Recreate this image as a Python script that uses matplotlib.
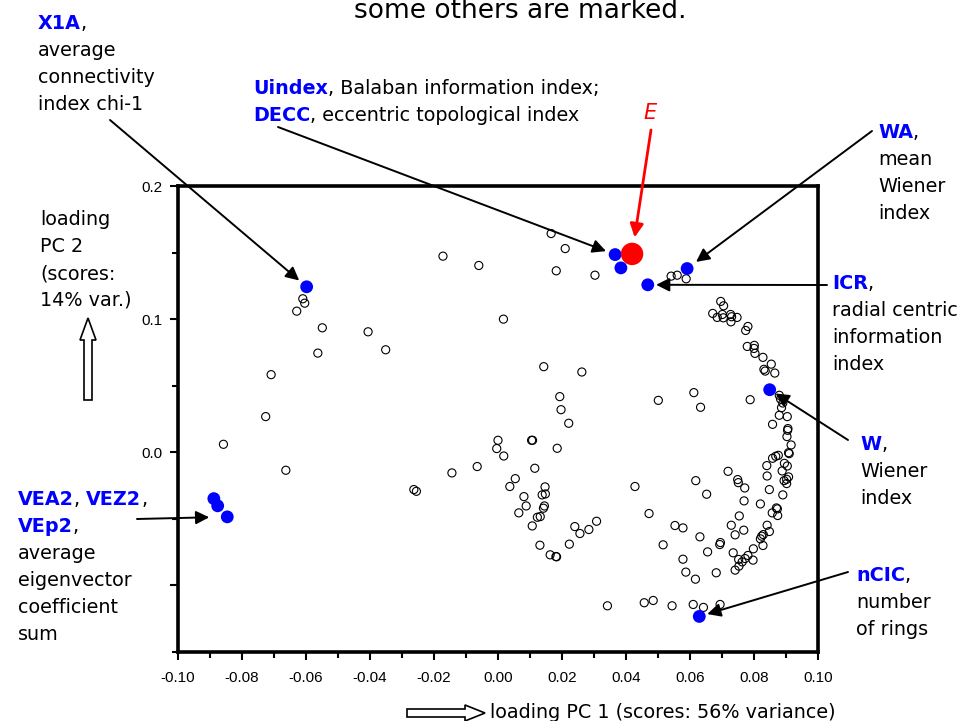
import numpy as np
import matplotlib
matplotlib.use("Agg")
from matplotlib import pyplot as plt
from matplotlib.ticker import MultipleLocator
from matplotlib.patches import Polygon

plt.rcParams['font.family'] = ['DejaVu Sans']

# loadings of all descriptors (open circles)
pc1 = [-0.0610, -0.0604, -0.0629, -0.0549, -0.0406, -0.0351, -0.0563, -0.0709, -0.0726,
       -0.0172, -0.0060, -0.0858, -0.0663,
       0.0166, 0.0210, 0.0182, 0.0303, 0.0541, 0.0560, 0.0588, 0.0017,
       0.0696, 0.0705, 0.0671, 0.0685, 0.0701, 0.0704, 0.0727, 0.0730, 0.0747, 0.0728,
       0.0781, 0.0774, 0.0779, 0.0801, 0.0800, 0.0803, 0.0828, 0.0854, 0.0831, 0.0835,
       0.0865, 0.0788, 0.0879, 0.0886, 0.0879, 0.0904, 0.0883, 0.0890,
       0.0143, 0.0262, 0.0193, 0.0197, 0.0501, 0.0612, 0.0633,
       0.0221, 0.0000, -0.0004, 0.0018, 0.0105, 0.0108, 0.0185, -0.0065, -0.0144,
       -0.0263, -0.0255, 0.0115, 0.0054, 0.0037, 0.0147, 0.0138, 0.0148, 0.0081,
       0.0145, 0.0142, 0.0088, 0.0065, 0.0123, 0.0132, 0.0107, 0.0240, 0.0256,
       0.0284, 0.0308, 0.0223, 0.0131, 0.0163, 0.0181, 0.0183, 0.0342,
       0.0858, 0.0906, 0.0905, 0.0903, 0.0916, 0.0908, 0.0910, 0.0876, 0.0868,
       0.0858, 0.0895, 0.0904, 0.0840, 0.0888, 0.0841, 0.0908, 0.0902, 0.0894,
       0.0902, 0.0848, 0.0890, 0.0719, 0.0749, 0.0751, 0.0771, 0.0618, 0.0652,
       0.0428, 0.0769, 0.0820, 0.0870, 0.0873, 0.0857, 0.0874, 0.0754, 0.0472,
       0.0729, 0.0768, 0.0741, 0.0841, 0.0848, 0.0829, 0.0824, 0.0820, 0.0828,
       0.0553, 0.0578, 0.0631, 0.0516, 0.0695, 0.0693, 0.0655, 0.0798, 0.0735,
       0.0781, 0.0772, 0.0763, 0.0752, 0.0753, 0.0741, 0.0797, 0.0578, 0.0587,
       0.0617, 0.0682, 0.0457, 0.0485, 0.0544, 0.0610, 0.0642, 0.0694]
pc2 = [0.1153, 0.1120, 0.1060, 0.0935, 0.0905, 0.0770, 0.0745, 0.0583, 0.0268,
       0.1473, 0.1403, 0.0060, -0.0135,
       0.1643, 0.1530, 0.1363, 0.1330, 0.1323, 0.1330, 0.1303, 0.1000,
       0.1133, 0.1100, 0.1043, 0.1013, 0.1035, 0.1010, 0.1035, 0.1018, 0.1013, 0.0980,
       0.0945, 0.0915, 0.0795, 0.0803, 0.0780, 0.0743, 0.0713, 0.0662, 0.0623, 0.0610,
       0.0595, 0.0395, 0.0428, 0.0335, 0.0278, 0.0268, 0.0400, 0.0370,
       0.0643, 0.0603, 0.0418, 0.0320, 0.0390, 0.0448, 0.0338,
       0.0218, 0.0090, 0.0028, -0.0028, 0.0090, 0.0090, 0.0030, -0.0107, -0.0155,
       -0.0280, -0.0293, -0.0120, -0.0198, -0.0257, -0.0260, -0.0320, -0.0313, -0.0333,
       -0.0403, -0.0420, -0.0403, -0.0455, -0.0488, -0.0483, -0.0553, -0.0558, -0.0610,
       -0.0580, -0.0518, -0.0690, -0.0698, -0.0770, -0.0783, -0.0785, -0.1153,
       0.0210, 0.0178, 0.0165, 0.0118, 0.0055, -0.0003, -0.0010, -0.0023, -0.0030,
       -0.0045, -0.0083, -0.0103, -0.0100, -0.0140, -0.0178, -0.0185, -0.0203, -0.0213,
       -0.0235, -0.0280, -0.0320, -0.0143, -0.0205, -0.0228, -0.0268, -0.0213, -0.0315,
       -0.0257, -0.0365, -0.0388, -0.0418, -0.0425, -0.0455, -0.0475, -0.0478, -0.0460,
       -0.0548, -0.0585, -0.0620, -0.0548, -0.0595, -0.0618, -0.0630, -0.0650, -0.0700,
       -0.0550, -0.0568, -0.0635, -0.0695, -0.0678, -0.0693, -0.0748, -0.0725, -0.0755,
       -0.0775, -0.0798, -0.0823, -0.0805, -0.0855, -0.0885, -0.0810, -0.0803, -0.0900,
       -0.0953, -0.0905, -0.1130, -0.1113, -0.1153, -0.1143, -0.1165, -0.1143]

# marked descriptors (blue)
marked_names = ['X1A', 'Uindex', 'DECC', 'WA', 'ICR', 'W', 'nCIC', 'VEA2', 'VEZ2', 'VEp2']
marked_pc1 = [-0.0598, 0.0366, 0.0384, 0.0591, 0.0468, 0.0849, 0.0629, -0.0888, -0.0876, -0.0846]
marked_pc2 = [0.1243, 0.1485, 0.1385, 0.1380, 0.1258, 0.0470, -0.1233, -0.0348, -0.0402, -0.0485]

# the E point (red)
e_pc1 = [0.0419]
e_pc2 = [0.1490]

x_ticks = [-0.10, -0.08, -0.06, -0.04, -0.02, 0.00, 0.02, 0.04, 0.06, 0.08, 0.10]
x_tick_labels = ['-0.10', '-0.08', '-0.06', '-0.04', '-0.02', '0.00', '0.02', '0.04', '0.06', '0.08', '0.10']
y_ticks = [-0.1, 0.0, 0.1, 0.2]
y_tick_labels = ['', '0.0', '0.1', '0.2']

W, H = 960, 721
BLUE = '#0000ff'
FS = 13.8


def fpos(x, y):
    # pixel position (from top left) -> figure fraction
    return x / W, 1 - y / H


fig = plt.figure(figsize=(9.6, 7.21), dpi=100)
ax = fig.add_axes([178 / W, 1 - 652 / H, 640 / W, 466 / H])

ax.scatter(pc1, pc2, s=34, facecolors='none', edgecolors='black', linewidths=0.8, zorder=3)
ax.scatter(marked_pc1, marked_pc2, s=85, color=BLUE, edgecolors='none', zorder=4)
ax.scatter(e_pc1, e_pc2, s=260, color='red', edgecolors='none', zorder=5)

ax.set_xlim(-0.10, 0.10)
ax.set_ylim(-0.15, 0.20)
ax.set_xticks(x_ticks)
ax.set_xticklabels(x_tick_labels, fontfamily='Liberation Sans', fontsize=11)
ax.set_yticks(y_ticks)
ax.set_yticklabels(y_tick_labels, fontfamily='Liberation Sans', fontsize=11)
ax.xaxis.set_minor_locator(MultipleLocator(0.01))
ax.yaxis.set_minor_locator(MultipleLocator(0.05))
ax.tick_params(which='major', length=6, width=1.5, pad=5)
ax.tick_params(axis='x', which='major', pad=8)
ax.tick_params(which='minor', length=4, width=1.5)
for sp in ax.spines.values():
    sp.set_linewidth(2.6)


def put_line(x, y, parts, color='black'):
    # parts: list of (text, bold) drawn one after the other on one baseline
    s, bold = parts[0]
    t = fig.text(*fpos(x, y), s, fontsize=FS, va='baseline', ha='left',
                 color=BLUE if bold else color, fontweight='bold' if bold else 'normal')
    for s, bold in parts[1:]:
        t = ax.annotate(s, xy=(1, 0), xycoords=t, va='bottom', ha='left', fontsize=FS,
                        color=BLUE if bold else color,
                        fontweight='bold' if bold else 'normal', annotation_clip=False)


def put_block(x, y0, lines, dy=27):
    for i, ln in enumerate(lines):
        if isinstance(ln, str):
            ln = [(ln, False)]
        put_line(x, y0 + i * dy, ln)


put_block(38, 29, [[('X1A', True), (',', False)], 'average', 'connectivity', 'index chi-1'])
put_block(253, 94, [[('Uindex', True), (', Balaban information index;', False)],
                    [('DECC', True), (', eccentric topological index', False)]])
put_block(878, 138, [[('WA', True), (',', False)], 'mean', 'Wiener', 'index'])
put_block(832, 289, [[('ICR', True), (',', False)], 'radial centric', 'information', 'index'])
put_block(860, 450, [[('W', True), (',', False)], 'Wiener', 'index'])
put_block(856, 581, [[('nCIC', True), (',', False)], 'number', 'of rings'])
put_block(18, 505, [[('VEA2', True), (', ', False), ('VEZ2', True), (',', False)],
                    [('VEp2', True), (',', False)], 'average', 'eigenvector', 'coefficient', 'sum'])
put_block(40, 225, ['loading', 'PC 2', '(scores:', '14% var.)'])
put_line(490, 718, [('loading PC 1 (scores: 56% variance)', False)])

fig.text(*fpos(650, 119), 'E', color='red', fontstyle='italic', fontsize=15, ha='center', va='baseline')
fig.text(*fpos(520, 18), 'some others are marked.', fontsize=19, ha='center', va='baseline')

# arrows from the labels to the marked points
arrow_starts = {'X1A': (110, 120), 'Uindex': (278, 127), 'WA': (872, 131), 'ICR': (827, 285),
                'W': (848, 440), 'nCIC': (848, 572), 'VEp2': (137, 519)}
arrow_shrink = {'X1A': 7, 'Uindex': 7, 'WA': 8, 'ICR': 6, 'W': 5, 'nCIC': 6, 'VEp2': 13}
for name, (sx, sy) in arrow_starts.items():
    i = marked_names.index(name)
    ax.annotate('', xy=(marked_pc1[i], marked_pc2[i]), xycoords='data',
                xytext=(sx, H - sy), textcoords='figure pixels', annotation_clip=False,
                arrowprops=dict(arrowstyle='-|>', color='black', lw=1.4, mutation_scale=20,
                                shrinkA=0, shrinkB=arrow_shrink[name]), zorder=6)
ax.annotate('', xy=(e_pc1[0], e_pc2[0]), xycoords='data',
            xytext=(651, H - 130), textcoords='figure pixels', annotation_clip=False,
            arrowprops=dict(arrowstyle='-|>', color='red', lw=2, mutation_scale=20,
                            shrinkA=0, shrinkB=12), zorder=6)

# hollow arrows next to the axis captions
up = [(84, 400), (92, 400), (92, 340), (96, 340), (88, 318), (80, 340), (84, 340)]
right = [(407, 709), (465, 709), (465, 705), (485, 713), (465, 721), (465, 717), (407, 717)]
for pts in (up, right):
    fig.add_artist(Polygon([fpos(px, py) for px, py in pts], closed=True, transform=fig.transFigure,
                           facecolor='white', edgecolor='black', lw=1.2))

plt.savefig('out.png', dpi=100)
